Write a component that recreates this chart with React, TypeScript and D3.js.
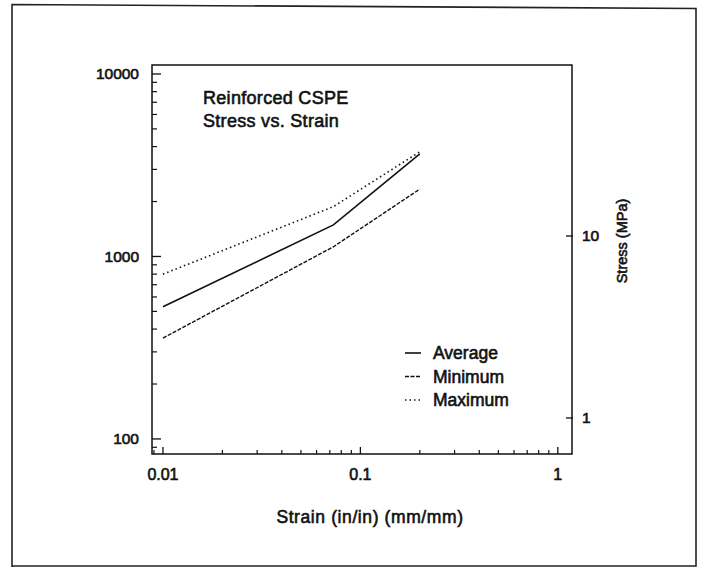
import React from "react";
import * as d3 from "d3";

const strain = [0.01, 0.073, 0.2];
const average = [530, 1490, 3650];
const minimum = [357, 1130, 2340];
const maximum = [800, 1875, 3750];

const xTickValues = [0.01, 0.1, 1];
const xTickLabels = ["0.01", "0.1", "1"];
const yTickValues = [100, 1000, 10000];
const yTickLabels = ["100", "1000", "10000"];
const y2TickValues = [1, 10];
const y2TickLabels = ["1", "10"];

const seriesNames = ["Average", "Minimum", "Maximum"];

const title1 = "Reinforced CSPE";
const title2 = "Stress vs. Strain";
const xTitle = "Strain (in/in) (mm/mm)";
const y2Title = "Stress (MPa)";

const W = 703;
const H = 569;
const L = 152, R = 572, T = 65, B = 454;

const FONT = "'Liberation Sans', Arial, Helvetica, sans-serif";
const INK = "#111";

export default function App() {
  const x = d3.scaleLog().domain([0.0088, 1.18]).range([L, R]);
  const y = d3.scaleLog().domain([82.7, 11200]).range([B, T]);
  const y2 = d3.scaleLog().domain([0.634, 87]).range([B, T]);

  const series = [
    { name: seriesNames[0], values: average, dash: null, width: 1.6 },
    { name: seriesNames[1], values: minimum, dash: "4,1.5", width: 1.4 },
    { name: seriesNames[2], values: maximum, dash: "1.5,3", width: 1.6 },
  ];

  const line = d3
    .line<[number, number]>()
    .x((d) => x(d[0]))
    .y((d) => y(d[1]));

  const xMinor: number[] = [];
  for (let e = -3; e <= 0; e++) {
    for (let m = 2; m <= 9; m++) {
      const v = m * Math.pow(10, e);
      if (v > 0.0088 && v < 1.18) xMinor.push(v);
    }
  }
  const yMinor: number[] = [];
  for (let e = 1; e <= 4; e++) {
    for (let m = 2; m <= 9; m++) {
      const v = m * Math.pow(10, e);
      if (v > 82.7 && v < 11200) yMinor.push(v);
    }
  }

  const textStyle: React.CSSProperties = {
    fontFamily: FONT,
    fill: INK,
    stroke: INK,
    strokeWidth: 0.6,
  };

  return (
    <svg
      width={W}
      height={H}
      style={{ position: "absolute", left: 0, top: 0, background: "#fff" }}
    >
      <path
        d="M12,567 L12,4.5 L696,8.5 L696,566 L12,566"
        fill="none"
        stroke="#222"
        strokeWidth={1.6}
      />

      <rect
        x={L}
        y={T}
        width={R - L}
        height={B - T}
        fill="none"
        stroke={INK}
        strokeWidth={1.5}
      />

      {yTickValues.map((v) => (
        <line key={"ym" + v} x1={L} x2={L + 9} y1={y(v)} y2={y(v)} stroke={INK} strokeWidth={1.3} />
      ))}
      {yMinor.map((v) => (
        <line key={"yn" + v} x1={L} x2={L + 5} y1={y(v)} y2={y(v)} stroke={INK} strokeWidth={1.2} />
      ))}
      {yTickValues.map((v, i) => (
        <text
          key={"yl" + v}
          x={139}
          y={y(v)}
          textAnchor="end"
          dominantBaseline="central"
          fontSize={15.5}
          style={textStyle}
        >
          {yTickLabels[i]}
        </text>
      ))}

      {xTickValues.map((v) => (
        <line key={"xm" + v} x1={x(v)} x2={x(v)} y1={B} y2={B - 7} stroke={INK} strokeWidth={1.3} />
      ))}
      {xMinor.map((v) => (
        <line key={"xn" + v} x1={x(v)} x2={x(v)} y1={B} y2={B - 4} stroke={INK} strokeWidth={1.2} />
      ))}
      {xTickValues.map((v, i) => (
        <text
          key={"xl" + v}
          x={x(v)}
          y={480}
          textAnchor="middle"
          fontSize={16}
          style={textStyle}
        >
          {xTickLabels[i]}
        </text>
      ))}

      {y2TickValues.map((v) => (
        <line key={"r" + v} x1={R - 6} x2={R + 1} y1={y2(v)} y2={y2(v)} stroke={INK} strokeWidth={1.3} />
      ))}
      {y2TickValues.map((v, i) => (
        <text
          key={"rl" + v}
          x={582}
          y={y2(v)}
          dominantBaseline="central"
          fontSize={15.5}
          style={textStyle}
        >
          {y2TickLabels[i]}
        </text>
      ))}

      <text x={203} y={104} fontSize={18} letterSpacing={0.3} style={textStyle}>
        {title1}
      </text>
      <text x={203} y={127} fontSize={18} letterSpacing={0.3} style={textStyle}>
        {title2}
      </text>
      <text x={370} y={523} textAnchor="middle" fontSize={17.5} letterSpacing={0.6} style={textStyle}>
        {xTitle}
      </text>
      <text
        transform="translate(627,241) rotate(-90)"
        textAnchor="middle"
        fontSize={14.5}
        style={textStyle}
      >
        {y2Title}
      </text>

      {series.map((s) => (
        <path
          key={s.name}
          d={line(strain.map((sx, i) => [sx, s.values[i]]) as [number, number][]) || ""}
          fill="none"
          stroke={INK}
          strokeWidth={s.width}
          strokeDasharray={s.dash || undefined}
        />
      ))}

      {series.map((s, i) => {
        const ly = 353 + i * 23.5;
        return (
          <g key={"lg" + s.name}>
            <line
              x1={405}
              x2={421}
              y1={ly}
              y2={ly}
              stroke={INK}
              strokeWidth={s.width}
              strokeDasharray={s.dash || undefined}
            />
            <text x={433} y={ly} dominantBaseline="central" fontSize={17.5} style={textStyle}>
              {s.name}
            </text>
          </g>
        );
      })}
    </svg>
  );
}
